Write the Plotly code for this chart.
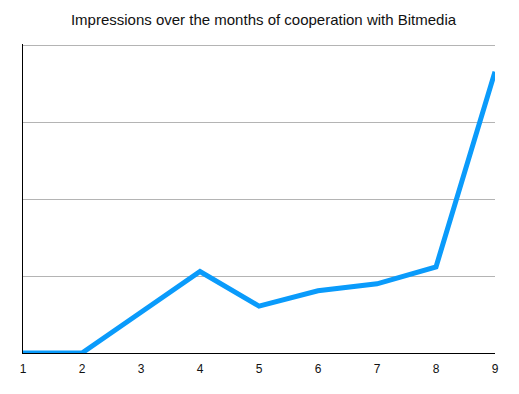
import plotly.graph_objects as go

months = [1, 2, 3, 4, 5, 6, 7, 8, 9]
impressions = [0, 0, 0.53, 1.06, 0.61, 0.81, 0.90, 1.12, 3.66]
tick_labels = ["1", "2", "3", "4", "5", "6", "7", "8", "9"]

fig = go.Figure()
fig.add_trace(go.Scatter(
    x=months, y=impressions, mode="lines",
    line=dict(color="#0A9BFB", width=5),
    hoverinfo="skip",
))

# page body has an 8px default margin, so the figure is offset by (8, 8)
fig.update_layout(
    width=511, height=386,
    margin=dict(l=15, r=24, t=36, b=41),
    paper_bgcolor="white", plot_bgcolor="white",
    showlegend=False,
    title=dict(
        text="Impressions over the months of cooperation with Bitmedia",
        x=0.5, xanchor="center", y=1 - 12 / 386, yanchor="middle",
        font=dict(family="Liberation Sans, Arial, sans-serif", size=15, color="#111111"),
    ),
    font=dict(family="Liberation Sans, Arial, sans-serif", size=12, color="#111111"),
)
fig.update_xaxes(
    range=[1, 9], tickvals=months, ticktext=tick_labels,
    showgrid=False, zeroline=False,
    showline=True, linecolor="black", linewidth=1,
    ticks="", ticklen=0, ticklabelstandoff=5,
)
fig.update_yaxes(
    range=[0, 4.02], tickvals=[1, 2, 3, 4],
    showticklabels=False, showgrid=True, gridcolor="#B4B4B4", gridwidth=1,
    zeroline=False, showline=True, linecolor="black", linewidth=1, ticks="",
)

fig.write_html("out.html")
